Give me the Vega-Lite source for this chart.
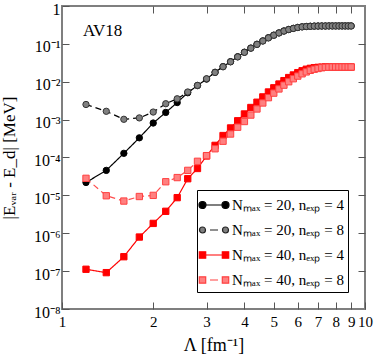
{
  "$schema": "https://vega.github.io/schema/vega-lite/v6.json",
  "width": 303,
  "height": 303,
  "autosize": {"type": "none"},
  "padding": {"left": 62, "top": 6, "right": 9, "bottom": 49},
  "config": {
    "view": {"stroke": "#7f7f7f", "strokeWidth": 2},
    "font": "Liberation Serif",
    "axis": {
      "labelFont": "Liberation Serif", "titleFont": "Liberation Serif",
      "labelColor": "black", "titleColor": "black", "titleFontWeight": "normal",
      "domain": false, "grid": false, "tickColor": "#555", "tickSize": -7, "tickWidth": 1,
      "labelFontSize": 15, "titleFontSize": 18
    }
  },
  "datasets": {
    "d": [
      {"x":1.2,"y":2.19e-5,"s":"a"},{"x":1.4,"y":4.57e-5,"s":"a"},{"x":1.6,"y":1.29e-4,"s":"a"},{"x":1.8,"y":3.31e-4,"s":"a"},{"x":2.0,"y":8.13e-4,"s":"a"},{"x":2.2,"y":1.55e-3,"s":"a"},{"x":2.4,"y":2.82e-3,"s":"a"},{"x":2.6,"y":5.13e-3,"s":"a"},{"x":2.8,"y":7.94e-3,"s":"a"},{"x":3.0,"y":1.175e-2,"s":"a"},
      {"x":3.2,"y":1.78e-2,"s":"a"},{"x":3.4,"y":2.51e-2,"s":"a"},{"x":3.6,"y":3.39e-2,"s":"a"},{"x":3.8,"y":4.57e-2,"s":"a"},{"x":4.0,"y":6.03e-2,"s":"a"},{"x":4.2,"y":7.76e-2,"s":"a"},{"x":4.4,"y":9.77e-2,"s":"a"},{"x":4.6,"y":0.120,"s":"a"},{"x":4.8,"y":0.145,"s":"a"},{"x":5.0,"y":0.170,"s":"a"},
      {"x":5.2,"y":0.195,"s":"a"},{"x":5.4,"y":0.219,"s":"a"},{"x":5.6,"y":0.240,"s":"a"},{"x":5.8,"y":0.257,"s":"a"},{"x":6.0,"y":0.272,"s":"a"},{"x":6.2,"y":0.282,"s":"a"},{"x":6.4,"y":0.288,"s":"a"},{"x":6.6,"y":0.292,"s":"a"},{"x":6.8,"y":0.295,"s":"a"},{"x":7.0,"y":0.296,"s":"a"},
      {"x":7.2,"y":0.297,"s":"a"},{"x":7.4,"y":0.297,"s":"a"},{"x":7.6,"y":0.298,"s":"a"},{"x":7.8,"y":0.298,"s":"a"},{"x":8.0,"y":0.298,"s":"a"},{"x":8.2,"y":0.298,"s":"a"},{"x":8.4,"y":0.298,"s":"a"},{"x":8.6,"y":0.298,"s":"a"},{"x":8.8,"y":0.298,"s":"a"},{"x":9.0,"y":0.298,"s":"a"},
      {"x":1.2,"y":2.51e-3,"s":"b"},{"x":1.4,"y":1.66e-3,"s":"b"},{"x":1.6,"y":1.02e-3,"s":"b"},{"x":1.8,"y":1.11e-3,"s":"b"},{"x":2.0,"y":1.585e-3,"s":"b"},{"x":2.2,"y":2.63e-3,"s":"b"},{"x":2.4,"y":3.55e-3,"s":"b"},{"x":2.6,"y":5.37e-3,"s":"b"},{"x":2.8,"y":8.0e-3,"s":"b"},{"x":3.0,"y":1.2e-2,"s":"b"},
      {"x":3.2,"y":1.76e-2,"s":"b"},{"x":3.4,"y":2.49e-2,"s":"b"},{"x":3.6,"y":3.36e-2,"s":"b"},{"x":3.8,"y":4.53e-2,"s":"b"},{"x":4.0,"y":5.98e-2,"s":"b"},{"x":4.2,"y":7.70e-2,"s":"b"},{"x":4.4,"y":9.70e-2,"s":"b"},{"x":4.6,"y":0.119,"s":"b"},{"x":4.8,"y":0.144,"s":"b"},{"x":5.0,"y":0.169,"s":"b"},
      {"x":5.2,"y":0.194,"s":"b"},{"x":5.4,"y":0.218,"s":"b"},{"x":5.6,"y":0.239,"s":"b"},{"x":5.8,"y":0.256,"s":"b"},{"x":6.0,"y":0.271,"s":"b"},{"x":6.2,"y":0.281,"s":"b"},{"x":6.4,"y":0.287,"s":"b"},{"x":6.6,"y":0.291,"s":"b"},{"x":6.8,"y":0.294,"s":"b"},{"x":7.0,"y":0.295,"s":"b"},
      {"x":7.2,"y":0.296,"s":"b"},{"x":7.4,"y":0.296,"s":"b"},{"x":7.6,"y":0.297,"s":"b"},{"x":7.8,"y":0.297,"s":"b"},{"x":8.0,"y":0.297,"s":"b"},{"x":8.2,"y":0.297,"s":"b"},{"x":8.4,"y":0.297,"s":"b"},{"x":8.6,"y":0.297,"s":"b"},{"x":8.8,"y":0.297,"s":"b"},{"x":9.0,"y":0.297,"s":"b"},
      {"x":1.2,"y":1.12e-7,"s":"c"},{"x":1.4,"y":9.12e-8,"s":"c"},{"x":1.6,"y":2.40e-7,"s":"c"},{"x":1.8,"y":7.94e-7,"s":"c"},{"x":2.0,"y":1.82e-6,"s":"c"},{"x":2.2,"y":3.80e-6,"s":"c"},{"x":2.4,"y":8.71e-6,"s":"c"},{"x":2.6,"y":2.75e-5,"s":"c"},{"x":2.8,"y":5.13e-5,"s":"c"},{"x":3.0,"y":1.10e-4,"s":"c"},
      {"x":3.2,"y":2.09e-4,"s":"c"},{"x":3.4,"y":3.80e-4,"s":"c"},{"x":3.6,"y":6.03e-4,"s":"c"},{"x":3.8,"y":9.33e-4,"s":"c"},{"x":4.0,"y":1.41e-3,"s":"c"},{"x":4.2,"y":2.09e-3,"s":"c"},{"x":4.4,"y":2.88e-3,"s":"c"},{"x":4.6,"y":3.98e-3,"s":"c"},{"x":4.8,"y":5.37e-3,"s":"c"},{"x":5.0,"y":6.92e-3,"s":"c"},
      {"x":5.2,"y":8.71e-3,"s":"c"},{"x":5.4,"y":1.07e-2,"s":"c"},{"x":5.6,"y":1.29e-2,"s":"c"},{"x":5.8,"y":1.51e-2,"s":"c"},{"x":6.0,"y":1.74e-2,"s":"c"},{"x":6.2,"y":1.95e-2,"s":"c"},{"x":6.4,"y":2.14e-2,"s":"c"},{"x":6.6,"y":2.26e-2,"s":"c"},{"x":6.8,"y":2.34e-2,"s":"c"},{"x":7.0,"y":2.40e-2,"s":"c"},
      {"x":7.2,"y":2.43e-2,"s":"c"},{"x":7.4,"y":2.45e-2,"s":"c"},{"x":7.6,"y":2.45e-2,"s":"c"},{"x":7.8,"y":2.45e-2,"s":"c"},{"x":8.0,"y":2.45e-2,"s":"c"},{"x":8.2,"y":2.45e-2,"s":"c"},{"x":8.4,"y":2.45e-2,"s":"c"},{"x":8.6,"y":2.45e-2,"s":"c"},{"x":8.8,"y":2.45e-2,"s":"c"},{"x":9.0,"y":2.45e-2,"s":"c"},
      {"x":1.2,"y":2.82e-5,"s":"d"},{"x":1.4,"y":9.77e-6,"s":"d"},{"x":1.6,"y":7.08e-6,"s":"d"},{"x":1.8,"y":9.33e-6,"s":"d"},{"x":2.0,"y":1.00e-5,"s":"d"},{"x":2.2,"y":2.29e-5,"s":"d"},{"x":2.4,"y":2.95e-5,"s":"d"},{"x":2.6,"y":4.57e-5,"s":"d"},{"x":2.8,"y":7.94e-5,"s":"d"},{"x":3.0,"y":1.12e-4,"s":"d"},
      {"x":3.2,"y":1.70e-4,"s":"d"},{"x":3.4,"y":2.69e-4,"s":"d"},{"x":3.6,"y":4.17e-4,"s":"d"},{"x":3.8,"y":6.31e-4,"s":"d"},{"x":4.0,"y":8.91e-4,"s":"d"},{"x":4.2,"y":1.32e-3,"s":"d"},{"x":4.4,"y":1.91e-3,"s":"d"},{"x":4.6,"y":2.75e-3,"s":"d"},{"x":4.8,"y":3.80e-3,"s":"d"},{"x":5.0,"y":5.01e-3,"s":"d"},
      {"x":5.2,"y":6.46e-3,"s":"d"},{"x":5.4,"y":8.13e-3,"s":"d"},{"x":5.6,"y":1.00e-2,"s":"d"},{"x":5.8,"y":1.20e-2,"s":"d"},{"x":6.0,"y":1.41e-2,"s":"d"},{"x":6.2,"y":1.62e-2,"s":"d"},{"x":6.4,"y":1.82e-2,"s":"d"},{"x":6.6,"y":2.00e-2,"s":"d"},{"x":6.8,"y":2.14e-2,"s":"d"},{"x":7.0,"y":2.24e-2,"s":"d"},
      {"x":7.2,"y":2.34e-2,"s":"d"},{"x":7.4,"y":2.40e-2,"s":"d"},{"x":7.6,"y":2.43e-2,"s":"d"},{"x":7.8,"y":2.45e-2,"s":"d"},{"x":8.0,"y":2.45e-2,"s":"d"},{"x":8.2,"y":2.45e-2,"s":"d"},{"x":8.4,"y":2.45e-2,"s":"d"},{"x":8.6,"y":2.45e-2,"s":"d"},{"x":8.8,"y":2.45e-2,"s":"d"},{"x":9.0,"y":2.45e-2,"s":"d"}
    ],
    "label": [{"x": 1.173, "y": 0.214, "t": "AV18"}]
  },
  "layer": [
    {
      "data": {"name": "d"},
      "mark": {"type": "line", "strokeWidth": 1.2},
      "encoding": {
        "x": {"field": "x", "type": "quantitative", "scale": {"type": "log", "domain": [1, 10], "nice": false},
              "axis": {"orient": "bottom", "values": [1,2,3,4,5,6,7,8,9,10], "labelFlush": false, "labelOverlap": false, "labelPadding": 12, "title": "Λ [fm⁻¹]", "titlePadding": 7}},
        "y": {"field": "y", "type": "quantitative", "scale": {"type": "log", "domain": [1e-8, 1], "nice": false},
              "axis": {"orient": "left", "values": [1e-8,1e-7,1e-6,1e-5,1e-4,1e-3,1e-2,1e-1,1], "labelOverlap": false, "labelPadding": 9, "labelFontSize": 16, "labelOffset": 3,
                       "labelExpr": "datum.value >= 0.5 ? '1' : '10⁻' + ['0','¹','²','³','⁴','⁵','⁶','⁷','⁸'][round(-log(datum.value)/LN10)]",
                       "title": "|Eᵥₐᵣ - E_d| [MeV]", "titleFontSize": 17, "titlePadding": 15}},
        "detail": {"field": "s", "type": "nominal"},
        "color": {"condition": [{"test": "datum.s === 'a' || datum.s === 'b'", "value": "black"}, {"test": "datum.s === 'c'", "value": "red"}], "value": "#ff4d4d"},
        "strokeDash": {"condition": {"test": "datum.s === 'b' || datum.s === 'd'", "value": [6, 4]}, "value": [1, 0]}
      }
    },
    {
      "data": {"name": "d"},
      "mark": {"type": "point", "filled": true, "size": 40, "strokeWidth": 1, "opacity": 1},
      "encoding": {
        "x": {"field": "x", "type": "quantitative", "scale": {"type": "log", "domain": [1, 10], "nice": false},
              "axis": {"orient": "top", "values": [2,3,4,5,6,7,8,9], "labels": false, "title": null}},
        "y": {"field": "y", "type": "quantitative", "scale": {"type": "log", "domain": [1e-8, 1], "nice": false},
              "axis": {"orient": "right", "values": [1e-7,1e-6,1e-5,1e-4,1e-3,1e-2,1e-1], "labels": false, "title": null}},
        "shape": {"condition": {"test": "datum.s === 'c' || datum.s === 'd'", "value": "square"}, "value": "circle"},
        "stroke": {"condition": [{"test": "datum.s === 'a'", "value": "black"}, {"test": "datum.s === 'b'", "value": "#333333"}, {"test": "datum.s === 'c'", "value": "red"}], "value": "#ff4040"},
        "fill": {"condition": [{"test": "datum.s === 'a'", "value": "black"}, {"test": "datum.s === 'b'", "value": "#808080"}, {"test": "datum.s === 'c'", "value": "red"}], "value": "#ff8080"}
      }
    },
    {
      "data": {"name": "d"},
      "mark": {"type": "point", "filled": true, "opacity": 0},
      "encoding": {
        "x": {"field": "x", "type": "quantitative", "scale": {"type": "log", "domain": [1, 10], "nice": false}, "axis": null},
        "y": {"field": "y", "type": "quantitative", "scale": {"type": "log", "domain": [1e-8, 1], "nice": false}, "axis": null},
        "shape": {"field": "s", "type": "nominal",
                  "scale": {"domain": ["a","b","c","d"], "range": [
                    "M-0.6,0L1.0,0M-1.3,0A0.35,0.35 0 1,0 -0.6,0A0.35,0.35 0 1,0 -1.3,0ZM1.0,0A0.35,0.35 0 1,0 1.7,0A0.35,0.35 0 1,0 1.0,0Z",
                    "M-0.2,0L0.6,0M-1.25,0A0.3,0.3 0 1,0 -0.65,0A0.3,0.3 0 1,0 -1.25,0ZM1.05,0A0.3,0.3 0 1,0 1.65,0A0.3,0.3 0 1,0 1.05,0Z",
                    "M-0.63,0L1.03,0M-1.27,-0.32h0.64v0.64h-0.64ZM1.03,-0.32h0.64v0.64h-0.64Z",
                    "M-0.2,0L0.6,0M-1.27,-0.32h0.64v0.64h-0.64ZM1.03,-0.32h0.64v0.64h-0.64Z"]},
                  "legend": {
                    "title": null, "orient": "bottom-right", "offset": 17, "padding": 4,
                    "strokeColor": "black", "fillColor": "white", "cornerRadius": 0,
                    "symbolSize": 400, "symbolStrokeWidth": 1.2, "symbolOpacity": 1, "labelOffset": 9, "rowPadding": 6,
                    "labelFont": "Liberation Serif", "labelFontSize": 15, "labelColor": "black", "labelLimit": 300,
                    "labelExpr": "datum.value === 'a' ? 'Nₘₐₓ = 20, nₑₓₚ = 4' : datum.value === 'b' ? 'Nₘₐₓ = 20, nₑₓₚ = 8' : datum.value === 'c' ? 'Nₘₐₓ = 40, nₑₓₚ = 4' : 'Nₘₐₓ = 40, nₑₓₚ = 8'"
                  }},
        "fill": {"field": "s", "type": "nominal", "scale": {"domain": ["a","b","c","d"], "range": ["black","#808080","red","#ff8080"]}},
        "stroke": {"field": "s", "type": "nominal", "scale": {"domain": ["a","b","c","d"], "range": ["black","#222222","red","#ff4040"]}}
      }
    },
    {
      "data": {"name": "label"},
      "mark": {"type": "text", "align": "left", "baseline": "middle", "fontSize": 17, "font": "Liberation Serif", "color": "black"},
      "encoding": {
        "x": {"field": "x", "type": "quantitative", "scale": {"type": "log", "domain": [1, 10], "nice": false}, "axis": null},
        "y": {"field": "y", "type": "quantitative", "scale": {"type": "log", "domain": [1e-8, 1], "nice": false}, "axis": null},
        "text": {"field": "t"}
      }
    }
  ],
  "resolve": {"axis": {"x": "independent", "y": "independent"}}
}
